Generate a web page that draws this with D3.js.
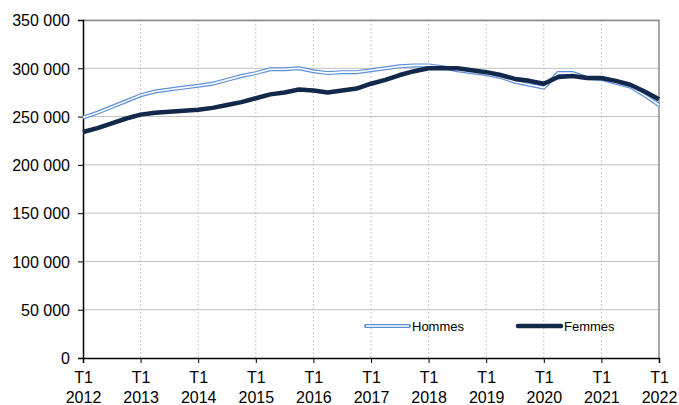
<!DOCTYPE html>
<html>
<head>
<meta charset="utf-8">
<script src="https://cdn.jsdelivr.net/npm/d3@7"></script>
<style>
  body { margin: 0; background: #fff; }
  text { font-family: "Liberation Sans", Arial, sans-serif; fill: #000; }
</style>
</head>
<body>
<div id="chart"></div>
<script>
// one point per quarter, T1 2012 .. T1 2022
var years = [2012, 2013, 2014, 2015, 2016, 2017, 2018, 2019, 2020, 2021, 2022];
var quarters = ["T1", "T2", "T3", "T4"];
var hommes = [249000, 254000, 260000, 266000, 272000, 276000, 278000, 280000, 282000, 284000, 288000, 292000,
              295000, 299000, 299000, 300000, 297000, 295000, 296000, 296000, 298000, 300000, 302000, 303000,
              303000, 301000, 298000, 296000, 294000, 291000, 286000, 283000, 280000, 295000, 295000, 290000,
              289000, 285000, 281000, 272000, 262000];
var femmes = [234000, 238000, 243000, 248000, 252000, 254000, 255000, 256000, 257000, 259000, 262000, 265000,
              269000, 273000, 275000, 278000, 277000, 275000, 277000, 279000, 284000, 288000, 293000, 297000,
              300000, 300000, 300000, 298000, 296000, 293000, 289000, 287000, 284000, 291000, 292000, 290000,
              290000, 287000, 283000, 276000, 268000];
var yTicks = [0, 50000, 100000, 150000, 200000, 250000, 300000, 350000];
var seriesNames = ["Hommes", "Femmes"];

var margin = { top: 20, right: 20, bottom: 47, left: 83 },
    width = 679 - margin.left - margin.right,
    height = 405 - margin.top - margin.bottom;

var periods = [];
years.forEach(function (y) {
    quarters.forEach(function (q) { periods.push(q + " " + y); });
});
periods = periods.slice(0, hommes.length);

var svg = d3.select("#chart")
    .append("svg")
    .attr("width", 679)
    .attr("height", 405)
    .append("g")
    .attr("transform", "translate(" + margin.left + "," + margin.top + ")");

var x = d3.scalePoint()
    .domain(periods)
    .range([0, width]);

var y = d3.scaleLinear()
    .domain([0, 350000])
    .range([height, 0]);

var fmt = function (d) { return d3.format(",")(d).replace(/,/g, " "); };

// horizontal grid
svg.selectAll(".hgrid")
    .data(yTicks.filter(function (d) { return d > 0; }))
    .enter().append("line")
    .attr("x1", 0).attr("x2", width)
    .attr("y1", function (d) { return y(d); })
    .attr("y2", function (d) { return y(d); })
    .attr("stroke", "#c0c0c0")
    .attr("stroke-width", 1);

// vertical dotted grid at each T1
svg.selectAll(".vgrid")
    .data(years.slice(1, -1))
    .enter().append("line")
    .attr("x1", function (d) { return x("T1 " + d); })
    .attr("x2", function (d) { return x("T1 " + d); })
    .attr("y1", 0).attr("y2", height)
    .attr("stroke", "#c8c8c8")
    .attr("stroke-dasharray", "2,2");

// frame top/right
svg.append("path")
    .attr("d", "M0,0.5H" + width + "V" + height)
    .attr("fill", "none")
    .attr("stroke", "#8c8c8c")
    .attr("stroke-width", 1.5);

// y axis
var yAxis = svg.append("g")
    .call(d3.axisLeft(y).tickValues(yTicks).tickFormat(fmt).tickSize(5).tickPadding(8));
yAxis.select(".domain").attr("stroke", "#000").attr("stroke-width", 1.5);
yAxis.selectAll(".tick line").attr("stroke", "#000");
yAxis.selectAll("text").style("font-size", "16px").attr("dy", "0.36em");

// x axis
var xAxis = svg.append("g")
    .attr("transform", "translate(0," + height + ")")
    .call(d3.axisBottom(x).tickValues(years.map(function (d) { return "T1 " + d; })).tickSize(5).tickFormat(""));
xAxis.select(".domain").attr("stroke", "#000").attr("stroke-width", 1.5);
xAxis.selectAll(".tick line").attr("stroke", "#000");
xAxis.selectAll(".tick").each(function (d) {
    var parts = d.split(" ");
    var t = d3.select(this).append("text")
        .attr("text-anchor", "middle")
        .style("font-size", "16px");
    t.append("tspan").attr("x", 0).attr("y", 25).text(parts[0]);
    t.append("tspan").attr("x", 0).attr("y", 45).text(parts[1]);
});

// lines
var line = d3.line()
    .x(function (d, i) { return x(periods[i]); })
    .y(function (d) { return y(d); });

svg.append("path")
    .datum(hommes)
    .attr("d", line)
    .attr("fill", "none")
    .attr("stroke", "#5b8fd8")
    .attr("stroke-width", 4);
svg.append("path")
    .datum(hommes)
    .attr("d", line)
    .attr("fill", "none")
    .attr("stroke", "#fff")
    .attr("stroke-width", 1.6);

svg.append("path")
    .datum(femmes)
    .attr("d", line)
    .attr("fill", "none")
    .attr("stroke", "#12284a")
    .attr("stroke-width", 4.5)
    .attr("stroke-linejoin", "round");

// legend
var legY = 306;
var leg1 = svg.append("g").attr("transform", "translate(" + (366 - margin.left) + "," + legY + ")");
leg1.append("line").attr("x1", 0).attr("x2", 43)
    .attr("stroke", "#5b8fd8").attr("stroke-width", 4).attr("stroke-linecap", "round");
leg1.append("line").attr("x1", 0).attr("x2", 43)
    .attr("stroke", "#fff").attr("stroke-width", 1.6);
leg1.append("text").attr("x", 46).attr("y", 4.5).style("font-size", "13px").text(seriesNames[0]);

var leg2 = svg.append("g").attr("transform", "translate(" + (518 - margin.left) + "," + legY + ")");
leg2.append("line").attr("x1", 0).attr("x2", 43)
    .attr("stroke", "#12284a").attr("stroke-width", 4.5).attr("stroke-linecap", "round");
leg2.append("text").attr("x", 46).attr("y", 4.5).style("font-size", "13px").text(seriesNames[1]);
</script>
</body>
</html>
